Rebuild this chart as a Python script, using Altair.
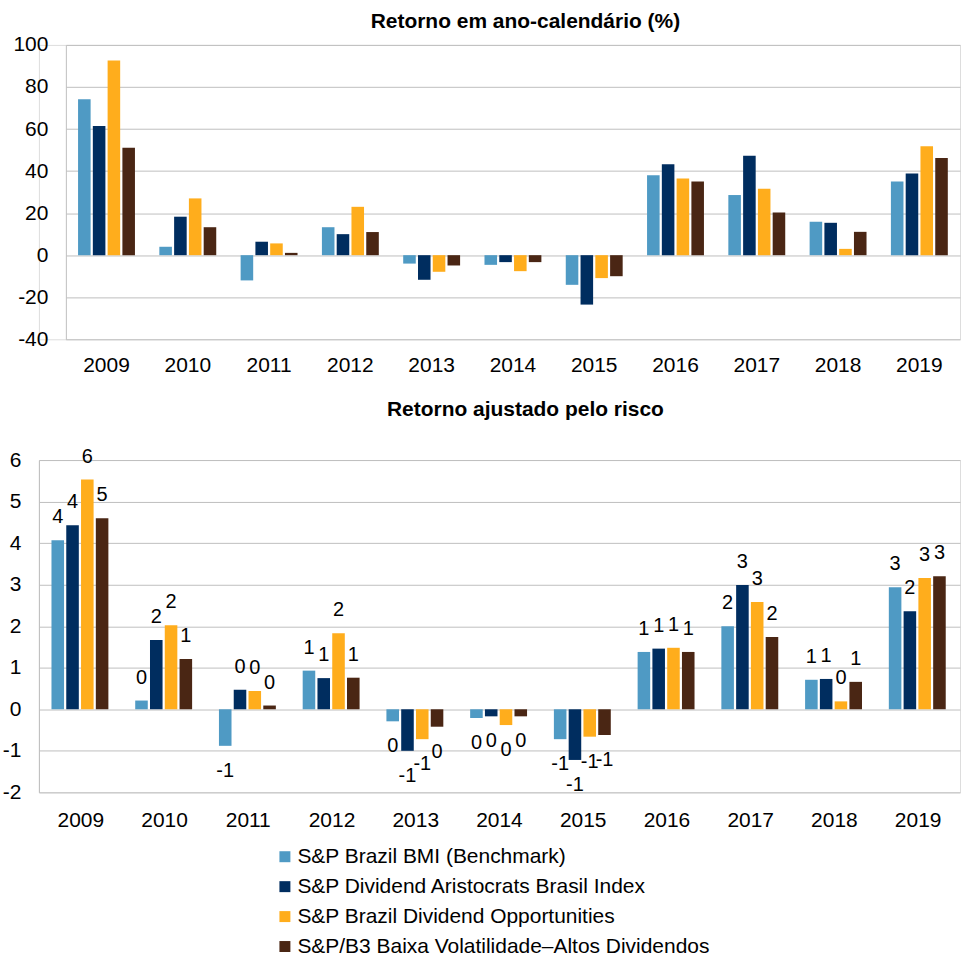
import altair as alt
import pandas as pd

# Categories and series
years = ["2009", "2010", "2011", "2012", "2013", "2014", "2015", "2016", "2017", "2018", "2019"]
series = [
    "S&P Brazil BMI (Benchmark)",
    "S&P Dividend Aristocrats Brasil Index",
    "S&P Brazil Dividend Opportunities",
    "S&P/B3 Baixa Volatilidade–Altos Dividendos",
]
colors = ["#4F9AC4", "#002D5F", "#FFAD1C", "#4A2614"]

# Calendar-year returns (%)
ret_bmi = [74.1, 4.0, -12.0, 13.3, -4.0, -4.6, -14.1, 38.0, 28.6, 15.9, 35.0]
ret_da = [61.4, 18.3, 6.4, 10.0, -11.7, -3.3, -23.5, 43.2, 47.3, 15.4, 38.8]
ret_bdo = [92.6, 27.0, 5.6, 23.0, -7.9, -7.6, -10.9, 36.5, 31.6, 3.0, 51.8]
ret_b3 = [51.1, 13.3, 1.1, 11.0, -4.9, -3.3, -10.0, 35.0, 20.3, 11.1, 46.2]

# Risk-adjusted returns
risk_bmi = [4.07, 0.21, -0.88, 0.93, -0.29, -0.21, -0.72, 1.38, 2.00, 0.71, 2.94]
risk_da = [4.43, 1.67, 0.47, 0.75, -1.00, -0.17, -1.22, 1.46, 2.99, 0.73, 2.36]
risk_bdo = [5.53, 2.02, 0.44, 1.83, -0.72, -0.38, -0.66, 1.48, 2.58, 0.19, 3.16]
risk_b3 = [4.60, 1.21, 0.09, 0.76, -0.42, -0.17, -0.62, 1.38, 1.74, 0.66, 3.20]


def long_table(columns):
    rows = []
    for name, values in zip(series, columns):
        for year, v in zip(years, values):
            rows.append({"year": year, "series": name, "value": v})
    return pd.DataFrame(rows)


ret_df = long_table([ret_bmi, ret_da, ret_bdo, ret_b3])
risk_df = long_table([risk_bmi, risk_da, risk_bdo, risk_b3])

FONT = "Liberation Sans"
GRID = "#BFBFBF"
VIEW_W = 923      # both panels share the same view width
TOP_INSET = 27    # the upper panel's plot area starts further right


def grouped_base(df, domain, ticks, inset, x_label_pad):
    x_scale = alt.Scale(paddingInner=0.3, paddingOuter=0.15, range=[inset, VIEW_W])
    return alt.Chart(df).encode(
        x=alt.X(
            "year:N",
            sort=years,
            scale=x_scale,
            axis=alt.Axis(
                title=None, labelAngle=0, labelFontSize=21, labelFont=FONT,
                labelColor="black", labelPadding=x_label_pad, ticks=False,
                domain=False, grid=False,
            ),
        ),
        xOffset=alt.XOffset("series:N", sort=series,
                            scale=alt.Scale(paddingInner=0.15, paddingOuter=0)),
        y=alt.Y(
            "value:Q",
            scale=alt.Scale(domain=domain, nice=False, zero=False),
            axis=alt.Axis(
                title=None, values=ticks, format="d", labelFontSize=21,
                labelFont=FONT, labelColor="black", labelPadding=18,
                ticks=False, domain=True, domainColor=GRID, grid=True,
                gridColor=GRID, offset=-inset, minExtent=38, maxExtent=38,
            ),
        ),
        color=alt.Color(
            "series:N",
            sort=series,
            scale=alt.Scale(domain=series, range=colors),
            legend=alt.Legend(
                title=None, orient="none", legendX=236, legendY=803,
                direction="vertical", symbolType="square", symbolSize=121,
                symbolStrokeWidth=0, labelFontSize=21, labelFont=FONT,
                labelColor="black", rowPadding=8, labelOffset=2,
                labelLimit=600,
            ),
        ),
    )


top = grouped_base(
    ret_df, [-40, 100], [-40, -20, 0, 20, 40, 60, 80, 100], TOP_INSET, 15
).mark_bar().properties(
    width=VIEW_W,
    height=295,
    title=alt.TitleParams(
        "Retorno em ano-calendário (%)", fontSize=21, fontWeight="bold",
        font=FONT, color="black", anchor="middle", frame="group", dx=26, offset=2,
    ),
)

bottom_base = grouped_base(risk_df, [-2, 6], [-2, -1, 0, 1, 2, 3, 4, 5, 6], 0, 17)
bottom_bars = bottom_base.mark_bar()
labels_pos = bottom_base.transform_filter("datum.value >= 0").mark_text(
    fontSize=20, font=FONT, baseline="middle", dy=-23
).encode(text=alt.Text("value:Q", format=".0f"), color=alt.value("black"))
labels_neg = bottom_base.transform_filter("datum.value < 0").mark_text(
    fontSize=20, font=FONT, baseline="middle", dy=25
).encode(text=alt.Text("value:Q", format=".0f"), color=alt.value("black"))

bottom = alt.layer(bottom_bars, labels_pos, labels_neg).properties(
    width=VIEW_W,
    height=333,
    title=alt.TitleParams(
        "Retorno ajustado pelo risco", fontSize=21, fontWeight="bold",
        font=FONT, color="black", anchor="middle", frame="group", dx=26, offset=27,
    ),
)

chart = (
    alt.vconcat(top, bottom, spacing=22)
    .properties(padding={"top": 9, "left": 0, "right": 0, "bottom": 0})
    .configure_view(stroke=None)
    .configure(
        font=FONT,
        locale=alt.Locale(
            number=alt.NumberLocale(
                decimal=".", thousands=",", grouping=[3], currency=["$", ""], minus="-"
            )
        ),
    )
)

chart.save("out.html", embed_options={"renderer": "svg", "actions": False})
